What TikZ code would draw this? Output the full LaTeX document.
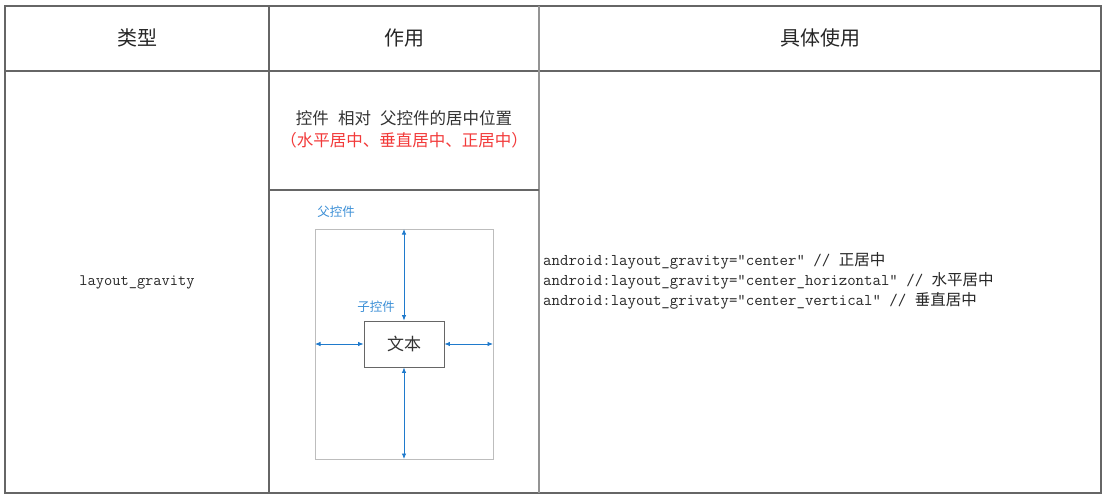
\documentclass[tikz,border=0pt]{standalone}
\usepackage{fontspec}
\newfontfamily\cjk{Noto Sans CJK SC}
\usetikzlibrary{matrix,arrows.meta}

\definecolor{gridgray}{HTML}{666666}
\definecolor{framegray}{HTML}{BDBDBD}
\definecolor{tagblue}{HTML}{3C8FD6}
\definecolor{arrowblue}{HTML}{1F7ACC}
\definecolor{notered}{HTML}{F23A3A}

\tikzset{
  grid/.style={draw=gridgray,line width=1.1pt},
  headtext/.style={font=\fontsize{20}{24}\selectfont\cjk,text=black!85},
  codetext/.style={font=\fontsize{16.4}{20}\selectfont\ttfamily,text=black!85,inner sep=0pt},
  tag/.style={font=\fontsize{12.5}{15}\selectfont\cjk,text=tagblue,inner sep=0pt},
  gap/.style={draw=arrowblue,line width=0.8pt,{Latex[length=5.5pt,width=4.5pt]}-{Latex[length=5.5pt,width=4.5pt]}}
}

\begin{document}
\begin{tikzpicture}[x=1pt,y=-1pt]
  \useasboundingbox (0,0) rectangle (1106,501);
  % table frame
  \coordinate (tl) at (5,6);
  \coordinate (br) at (1101,493);
  \draw[grid] (tl) rectangle (br);
  \draw[grid] (5,71) -- (1101,71);
  \draw[grid] (269,6) -- (269,493);
  \draw[grid,draw=gridgray!70] (539,6) -- (539,493);
  \draw[grid] (269,190) -- (539,190);

  % header
  \node[headtext] (type) at (137,38) {类型};
  \node[headtext] (role) at (404,38) {作用};
  \node[headtext] (usage) at (820,38) {具体使用};

  \node[codetext,font=\fontsize{16}{20}\selectfont\ttfamily] (attr) at (137,282) {layout\_gravity};

  \node[align=center,font=\fontsize{16.5}{22}\selectfont\cjk,text=black!80] (desc) at (404,129)
    {控件\hspace{0.55em}相对\hspace{0.55em}父控件的居中位置\\ \textcolor{notered}{（水平居中、垂直居中、正居中）}};

  % sketch
  \draw[framegray,line width=0.9pt] (315,229) rectangle (493,459);
  \coordinate (ptop) at (404,229);
  \coordinate (pbot) at (404,459);
  \coordinate (pleft) at (315,344);
  \coordinate (pright) at (493,344);
  \node[draw=gridgray,line width=0.9pt,minimum width=80pt,minimum height=46pt,inner sep=0pt,
        font=\fontsize{17}{20}\selectfont\cjk,text=black!80] (child) at (404,344) {文本};
  \node[tag] (parenttag) at (336,212) {父控件};
  \node[tag] (childtag) at (376,307) {子控件};
  \draw[gap] (child.north) -- (ptop);
  \draw[gap] (child.south) -- (pbot);
  \draw[gap] (child.west) -- (pleft);
  \draw[gap] (child.east) -- (pright);

  % code
  \matrix (code) [matrix of nodes,inner sep=0pt,anchor=west,nodes={codetext,anchor=west,minimum height=20pt}] at (543,281)
  {
    android:layout\_gravity="center" // {\cjk\fontsize{15.5}{20}\selectfont 正居中}                 \\
    android:layout\_gravity="center\_horizontal" // {\cjk\fontsize{15.5}{20}\selectfont 水平居中}   \\
    android:layout\_grivaty="center\_vertical" // {\cjk\fontsize{15.5}{20}\selectfont 垂直居中}     \\
  };
\end{tikzpicture}
\end{document}
